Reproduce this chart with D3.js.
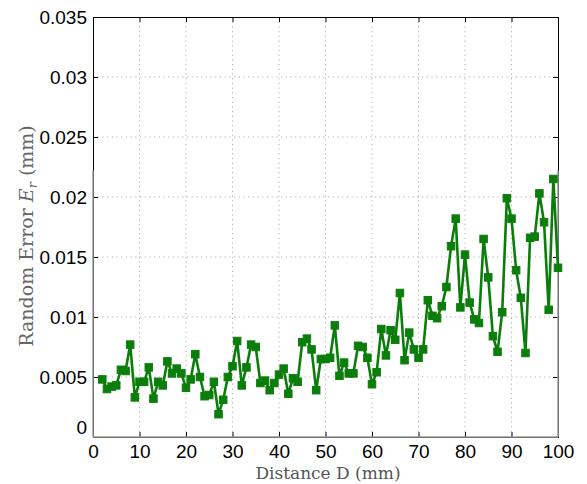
<!DOCTYPE html>
<html>
<head>
<meta charset="utf-8">
<script src="https://cdn.jsdelivr.net/npm/d3@7"></script>
<style>
  body { margin: 0; background: #fff; }
</style>
</head>
<body>
<div id="chart"></div>
<script>
// distance D (mm)
const distances = d3.range(2, 101);
// random error Er (mm)
const errors = [
  0.0048, 0.0040, 0.0042, 0.0043, 0.0056, 0.0055, 0.0077, 0.0033, 0.0046,
  0.0046, 0.0058, 0.0032, 0.0046, 0.0043, 0.0063, 0.0053, 0.0057, 0.0053, 0.0041,
  0.0048, 0.0069, 0.0050, 0.0034, 0.0035, 0.0046, 0.0019, 0.0031, 0.0050, 0.0059,
  0.0080, 0.0043, 0.0058, 0.0077, 0.0075, 0.0045, 0.0047, 0.0039, 0.0045, 0.0052,
  0.0057, 0.0036, 0.0049, 0.0046, 0.0079, 0.0082, 0.0073, 0.0039, 0.0065, 0.0065,
  0.0066, 0.0093, 0.0051, 0.0062, 0.0053, 0.0053, 0.0076, 0.0075, 0.0066, 0.0044,
  0.0054, 0.0090, 0.0068, 0.0089, 0.0081, 0.0120, 0.0064, 0.0087, 0.0073, 0.0066,
  0.0073, 0.0114, 0.0101, 0.0099, 0.0109, 0.0125, 0.0159, 0.0182, 0.0108, 0.0152,
  0.0112, 0.0098, 0.0095, 0.0165, 0.0133, 0.0084, 0.0071, 0.0104, 0.0199, 0.0182,
  0.0139, 0.0116, 0.0070, 0.0166, 0.0167, 0.0203, 0.0179, 0.0106, 0.0215, 0.0141
];
const xTicks = d3.range(0, 101, 10);
const yTicks = [0, 0.005, 0.01, 0.015, 0.02, 0.025, 0.03, 0.035];
const yTickLabels = ["0", "0.005", "0.01", "0.015", "0.02", "0.025", "0.03", "0.035"];

let width = 587,
  height = 484,
  margin = { left: 93, right: 29, top: 17, bottom: 47 };

let innerW = width - margin.left - margin.right,
  innerH = height - margin.top - margin.bottom;

let data = distances.map((d, i) => ({ d: d, e: errors[i] }));

let svg = d3
  .select("#chart")
  .append("svg")
  .attr("width", width)
  .attr("height", height);

let x = d3.scaleLinear().domain([0, 100]).range([0, innerW]);
let y = d3.scaleLinear().domain([0, 0.035]).range([innerH, 0]);

let g = svg
  .append("g")
  .attr("transform", `translate(${margin.left}, ${margin.top})`);

// dotted grid
g.append("g")
  .selectAll("line")
  .data(xTicks.slice(1, -1))
  .enter()
  .append("line")
  .attr("x1", d => x(d))
  .attr("x2", d => x(d))
  .attr("y1", 0)
  .attr("y2", innerH)
  .attr("stroke", "#b0b0b0")
  .attr("stroke-dasharray", "1.2,3.5");

g.append("g")
  .selectAll("line")
  .data(yTicks.slice(1, -1))
  .enter()
  .append("line")
  .attr("x1", 0)
  .attr("x2", innerW)
  .attr("y1", d => y(d))
  .attr("y2", d => y(d))
  .attr("stroke", "#b0b0b0")
  .attr("stroke-dasharray", "1.2,3.5");

// axes with inward ticks
let xAxis = d3.axisBottom(x).tickValues(xTicks).tickSize(-5).tickPadding(8);
let yAxis = d3
  .axisLeft(y)
  .tickValues(yTicks)
  .tickSize(-5)
  .tickPadding(6)
  .tickFormat((d, i) => yTickLabels[i]);

let gx = g
  .append("g")
  .attr("transform", `translate(0, ${innerH})`)
  .call(xAxis);
let gy = g.append("g").call(yAxis);

g.append("g")
  .call(d3.axisTop(x).tickValues(xTicks).tickSize(-5).tickFormat(""));
g.append("g")
  .attr("transform", `translate(${innerW}, 0)`)
  .call(d3.axisRight(y).tickValues(yTicks).tickSize(-5).tickFormat(""));

g.selectAll(".domain").attr("stroke", "#000");
g.selectAll(".tick line").attr("stroke", "#000");
g.selectAll(".tick text")
  .style("font-family", "'Liberation Sans', Arial, sans-serif")
  .style("font-size", "19px")
  .attr("fill", "#000");

// matlab nudges the shared origin label up
gy.selectAll(".tick text")
  .filter(d => d === 0)
  .attr("dy", "-0.2em");

// lower part of the frame is greyed in the source picture
let greyTop = y(0.0222);
g.append("line")
  .attr("x1", 0).attr("x2", 0)
  .attr("y1", greyTop).attr("y2", innerH)
  .attr("stroke", "#9a9a9a").attr("stroke-width", 1.5);
g.append("line")
  .attr("x1", innerW).attr("x2", innerW)
  .attr("y1", greyTop).attr("y2", innerH)
  .attr("stroke", "#9a9a9a").attr("stroke-width", 1.5);
g.append("line")
  .attr("x1", 0).attr("x2", innerW)
  .attr("y1", innerH).attr("y2", innerH)
  .attr("stroke", "#9a9a9a").attr("stroke-width", 1.5);

// series
let line = d3
  .line()
  .x(d => x(d.d))
  .y(d => y(d.e));

g.append("path")
  .datum(data)
  .attr("fill", "none")
  .attr("stroke", "#0b7d0b")
  .attr("stroke-width", 2.6)
  .attr("stroke-linejoin", "round")
  .attr("d", line);

let ms = 7.5;
g.append("g")
  .selectAll("rect")
  .data(data)
  .enter()
  .append("rect")
  .attr("x", d => x(d.d) - ms / 2)
  .attr("y", d => y(d.e) - ms / 2)
  .attr("width", ms)
  .attr("height", ms)
  .attr("fill", "#0b7d0b")
  .attr("stroke", "#0b7d0b")
  .attr("stroke-width", 1);

// axis titles
svg
  .append("text")
  .attr("x", 328)
  .attr("y", 479)
  .attr("text-anchor", "middle")
  .style("font-family", "'DejaVu Serif', 'Liberation Serif', serif")
  .style("font-size", "17px")
  .attr("fill", "#555")
  .text("Distance D (mm)");

let yLabel = svg
  .append("text")
  .attr("transform", `translate(33, 236) rotate(-90)`)
  .attr("text-anchor", "middle")
  .style("font-family", "'DejaVu Serif', 'Liberation Serif', serif")
  .style("font-size", "19px")
  .attr("fill", "#666");

yLabel.append("tspan").text("Random Error ");
yLabel.append("tspan").style("font-style", "italic").text("E");
yLabel.append("tspan").style("font-style", "italic").style("font-size", "13px").attr("dy", "4").text("r");
yLabel.append("tspan").attr("dy", "-4").text(" (mm)");
</script>
</body>
</html>
